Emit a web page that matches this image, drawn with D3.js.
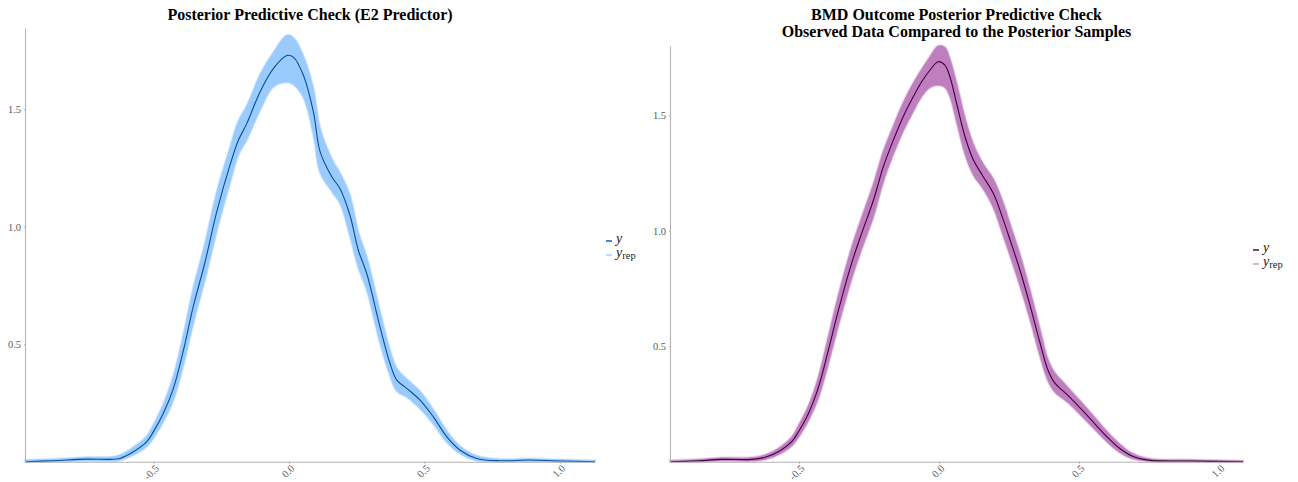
<!DOCTYPE html>
<html>
<head>
<meta charset="utf-8">
<script src="https://cdn.jsdelivr.net/npm/d3@7"></script>
<style>
  body { margin: 0; background: #fff; }
  svg { display: block; }
  text { font-family: "Liberation Serif", "DejaVu Serif", serif; }
</style>
</head>
<body>
<svg id="chart" width="1298" height="482"></svg>
<script>
// ---- E2 predictor model: observed density (y) and posterior draw envelope (y_rep)
const e2X = [-0.975,-0.871,-0.747,-0.661,-0.624,-0.575,-0.526,-0.501,-0.464,-0.427,-0.390,-0.354,-0.310,-0.267,-0.218,-0.187,-0.156,-0.107,-0.058,-0.008,0.016,0.053,0.090,0.115,0.158,0.188,0.225,0.256,0.287,0.336,0.373,0.398,0.435,0.484,0.533,0.583,0.632,0.693,0.779,0.890,1.001,1.130];
const e2Y = [0,0.004,0.011,0.010,0.014,0.042,0.084,0.127,0.206,0.312,0.474,0.659,0.850,1.063,1.262,1.368,1.439,1.574,1.673,1.729,1.722,1.645,1.489,1.319,1.213,1.163,1.049,0.900,0.801,0.574,0.418,0.347,0.312,0.262,0.191,0.106,0.049,0.014,0.004,0.007,0.003,0];
const e2RepLo = [0,0,0.004,0.003,0.006,0.028,0.064,0.100,0.170,0.262,0.410,0.585,0.775,0.980,1.185,1.305,1.370,1.495,1.595,1.615,1.605,1.550,1.390,1.230,1.150,1.100,0.960,0.825,0.730,0.505,0.365,0.300,0.275,0.225,0.160,0.082,0.034,0.005,0,0.001,0,0];
const e2RepHi = [0.007,0.011,0.019,0.020,0.028,0.062,0.108,0.157,0.246,0.366,0.542,0.738,0.932,1.148,1.338,1.450,1.515,1.648,1.742,1.815,1.805,1.728,1.590,1.420,1.290,1.230,1.135,0.978,0.872,0.642,0.476,0.398,0.352,0.300,0.222,0.131,0.066,0.025,0.011,0.013,0.009,0.005];

// ---- BMD outcome model
const bmdX = [-0.961,-0.860,-0.776,-0.669,-0.621,-0.574,-0.526,-0.502,-0.466,-0.430,-0.395,-0.359,-0.312,-0.276,-0.234,-0.199,-0.163,-0.128,-0.092,-0.062,-0.032,-0.003,0.021,0.039,0.063,0.093,0.123,0.158,0.194,0.230,0.254,0.289,0.325,0.361,0.389,0.414,0.440,0.466,0.511,0.555,0.600,0.645,0.689,0.748,0.896,1.086];
const bmdY = [0,0.004,0.010,0.010,0.019,0.043,0.087,0.130,0.210,0.325,0.484,0.657,0.860,0.990,1.133,1.277,1.393,1.494,1.580,1.645,1.696,1.732,1.717,1.667,1.551,1.407,1.306,1.234,1.162,1.046,0.960,0.830,0.678,0.514,0.397,0.340,0.310,0.281,0.224,0.166,0.108,0.058,0.025,0.007,0.003,0];
const bmdRepLo = [0,0,0.004,0.003,0.010,0.030,0.068,0.105,0.178,0.278,0.424,0.590,0.790,0.920,1.060,1.210,1.330,1.430,1.515,1.580,1.620,1.630,1.620,1.580,1.470,1.330,1.240,1.180,1.100,0.975,0.890,0.760,0.615,0.455,0.350,0.300,0.275,0.250,0.195,0.140,0.085,0.040,0.014,0.002,0,0];
const bmdRepHi = [0.005,0.010,0.017,0.018,0.030,0.058,0.108,0.158,0.244,0.372,0.545,0.725,0.930,1.060,1.205,1.345,1.455,1.555,1.640,1.700,1.755,1.800,1.795,1.745,1.640,1.490,1.375,1.290,1.225,1.120,1.030,0.900,0.745,0.575,0.445,0.385,0.350,0.315,0.255,0.195,0.132,0.078,0.038,0.014,0.008,0.004];

// ---- axis ticks and titles
const xTickValues = [-0.5, 0.0, 0.5, 1.0];
const yTickValues = [0.5, 1.0, 1.5];
const e2Title = ["Posterior Predictive Check (E2 Predictor)"];
const bmdTitle = ["BMD Outcome Posterior Predictive Check", "Observed Data Compared to the Posterior Samples"];

const svg = d3.select("#chart");
svg.append("rect").attr("width", 1298).attr("height", 482).attr("fill", "#fff");

const panels = [
  {
    title: e2Title, xs: e2X, y: e2Y, lo: e2RepLo, hi: e2RepHi,
    xDomain: [-0.975, 1.130], xRange: [25, 595],
    yDomain: [0, 1.846], yRange: [461.7, 28],
    yColor: "#0a4f94", repColor: "#99cbff", repEdge: "#d2e7ff",
    keyY: "#1f6fc2", keyRep: "#a8d2ff",
    legend: [606, 241]
  },
  {
    title: bmdTitle, xs: bmdX, y: bmdY, lo: bmdRepLo, hi: bmdRepHi,
    xDomain: [-0.961, 1.086], xRange: [670, 1243],
    yDomain: [0, 1.80], yRange: [461.7, 46],
    yColor: "#400040", repColor: "#bf7fbf", repEdge: "#e6cde6",
    keyY: "#5a1a5a", keyRep: "#cf9fcf",
    legend: [1253, 250]
  }
];

const fmt = d => d.toFixed(1);

panels.forEach(p => {
  const x = d3.scaleLinear().domain(p.xDomain).range(p.xRange);
  const y = d3.scaleLinear().domain(p.yDomain).range(p.yRange);
  const g = svg.append("g");

  // replicated-density envelope with a faint outer fringe
  const band = p.xs.map((v, i) => ({ x: v, lo: p.lo[i], hi: p.hi[i] }));
  const area = d3.area()
    .x(d => x(d.x)).y0(d => y(d.lo)).y1(d => y(d.hi))
    .curve(d3.curveCatmullRom);
  g.append("path").datum(band).attr("d", area)
    .attr("fill", "none").attr("stroke", p.repEdge).attr("stroke-width", 2.6)
    .attr("stroke-opacity", 0.8);
  g.append("path").datum(band).attr("d", area)
    .attr("fill", p.repColor).attr("stroke", p.repColor).attr("stroke-width", 0.6);

  // observed density
  const obs = p.xs.map((v, i) => ({ x: v, d: p.y[i] }));
  g.append("path").datum(obs)
    .attr("d", d3.line().x(d => x(d.x)).y(d => y(d.d)).curve(d3.curveCatmullRom))
    .attr("fill", "none").attr("stroke", p.yColor).attr("stroke-width", 1.1);

  // axes
  const xAxis = g.append("g")
    .attr("transform", `translate(0,${p.yRange[0]})`)
    .call(d3.axisBottom(x).tickValues(xTickValues).tickFormat(fmt).tickSize(2).tickSizeOuter(0));
  xAxis.selectAll("text")
    .attr("text-anchor", "end")
    .attr("x", -1.2).attr("y", 5.6).attr("dy", "0.35em")
    .attr("transform", "rotate(-45)");

  const yAxis = g.append("g")
    .attr("transform", `translate(${p.xRange[0]},0)`)
    .call(d3.axisLeft(y).tickValues(yTickValues).tickFormat(fmt).tickSize(1).tickPadding(3).tickSizeOuter(0));

  [xAxis, yAxis].forEach(a => {
    a.select(".domain").attr("stroke", "#b3b3b3").attr("stroke-width", 1.1);
    a.selectAll(".tick line").attr("stroke", "#b3b3b3");
    a.selectAll(".tick text").attr("fill", "#5a5a5a").attr("font-size", 10.5)
      .attr("font-family", "Liberation Serif, serif");
  });

  // title
  const cx = (p.xRange[0] + p.xRange[1]) / 2;
  p.title.forEach((t, i) => {
    svg.append("text").attr("x", cx).attr("y", 20 + i * 17)
      .attr("text-anchor", "middle").attr("font-weight", "bold")
      .attr("font-size", 16).attr("fill", "#000").text(t);
  });

  // legend
  const [lx, ly] = p.legend;
  const lg = svg.append("g");
  lg.append("line").attr("x1", lx).attr("x2", lx + 6).attr("y1", ly).attr("y2", ly)
    .attr("stroke", p.keyY).attr("stroke-width", 1.6);
  lg.append("line").attr("x1", lx).attr("x2", lx + 6).attr("y1", ly + 14).attr("y2", ly + 14)
    .attr("stroke", p.keyRep).attr("stroke-width", 1.6);
  lg.append("text").attr("x", lx + 10).attr("y", ly + 2).attr("font-size", 14)
    .attr("font-style", "italic").attr("fill", "#222").text("y");
  const t2 = lg.append("text").attr("x", lx + 10).attr("y", ly + 16).attr("font-size", 14).attr("fill", "#222");
  t2.append("tspan").attr("font-style", "italic").text("y");
  t2.append("tspan").attr("font-size", 10.5).attr("dy", 2).text("rep");
});
</script>
</body>
</html>
